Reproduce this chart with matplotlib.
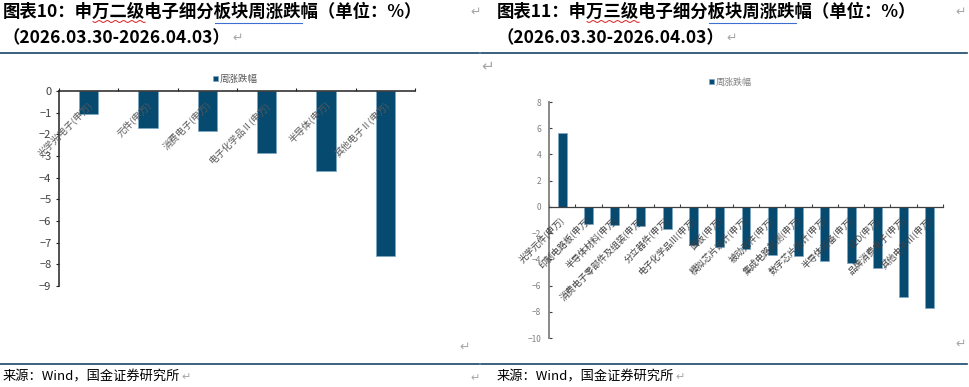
import numpy as np
import matplotlib
matplotlib.use('Agg')
from matplotlib import pyplot as plt
from matplotlib.transforms import offset_copy

plt.rcParams['font.family'] = ['Noto Sans CJK SC', 'DejaVu Sans']

# ---- data (weekly change, %) ----
sw2_names = ['光学光电子(申万)', '元件(申万)', '消费电子(申万)',
             '电子化学品Ⅱ(申万)', '半导体(申万)', '其他电子Ⅱ(申万)']
sw2_chg = [-1.06, -1.72, -1.83, -2.86, -3.70, -7.63]

sw3_names = ['光学元件(申万)', '印制电路板(申万)', '半导体材料(申万)',
             '消费电子零部件及组装(申万)', '分立器件(申万)', '电子化学品Ⅲ(申万)',
             '面板(申万)', '模拟芯片设计(申万)', '被动元件(申万)',
             '集成电路封测(申万)', '数字芯片设计(申万)', '半导体设备(申万)',
             'LED(申万)', '品牌消费电子(申万)', '其他电子Ⅲ(申万)']
sw3_chg = [5.60, -1.32, -1.40, -1.45, -1.70, -2.92, -3.06, -3.24,
           -3.64, -3.77, -4.16, -4.27, -4.68, -6.90, -7.72]

sw2_yticks = list(range(-9, 1))
sw3_yticks = list(range(-10, 9, 2))

title_l = '图表10：申万二级电子细分板块周涨跌幅（单位：%）'
title_r = '图表11：申万三级电子细分板块周涨跌幅（单位：%）'
period = '（2026.03.30-2026.04.03）'
source = '来源：Wind，国金证券研究所'
series_name = '周涨跌幅'

W, H = 969, 387
BAR = '#064A70'
NAVY = '#17456B'
MARK = '#A6A6A6'

fig = plt.figure(figsize=(W / 100, H / 100), dpi=100)
renderer = fig.canvas.get_renderer()


def fx(x):
    return x / W


def fy(y):
    return 1 - y / H


def text_w(s, **kw):
    t = fig.text(0, 0, s, **kw)
    w = t.get_window_extent(renderer).width
    t.remove()
    return w


def hline(x0, x1, y, **kw):
    fig.add_artist(plt.Line2D([fx(x0), fx(x1)], [fy(y), fy(y)], transform=fig.transFigure, **kw))


# ---- document text around the charts ----
tkw = dict(fontsize=12.5, fontweight='bold', color='black')
for x0, title, bad, blue in [(3, title_l, '万二级', '板块周涨跌'), (497, title_r, '万三级', '板块周涨跌')]:
    fig.text(fx(x0), fy(12), title, va='center', ha='left', **tkw)
    fig.text(fx(x0), fy(38), period, va='center', ha='left', **tkw)
    # word-processor squiggles
    i = title.index(bad)
    a = x0 + text_w(title[:i], **tkw)
    b = x0 + text_w(title[:i + len(bad)], **tkw)
    xs = np.linspace(a, b, 40)
    ys = 21.5 + 1.0 * np.sin((xs - a) / 1.3)
    fig.add_artist(plt.Line2D(fx(xs), fy(ys), transform=fig.transFigure, color='#E02020', lw=0.7))
    j = title.index(blue)
    a = x0 + text_w(title[:j], **tkw)
    b = x0 + text_w(title[:j + len(blue)], **tkw)
    hline(a, b, 22.5, color='#3B6FD0', lw=0.8)
    # paragraph mark after the date line
    pw = text_w(period, **tkw)
    fig.text(fx(x0 + pw + 2), fy(38), '↵', va='center', ha='left', fontsize=9, color=MARK)

fig.text(fx(470), fy(12), '↵', va='center', ha='left', fontsize=9, color=MARK)
fig.text(fx(955), fy(12), '↵', va='center', ha='left', fontsize=9, color=MARK)
fig.text(fx(481), fy(66), '↵', va='center', ha='left', fontsize=11, color=MARK)
fig.text(fx(459), fy(347), '↵', va='center', ha='left', fontsize=9, color=MARK)
fig.text(fx(955), fy(344), '↵', va='center', ha='left', fontsize=9, color=MARK)

hline(0, 479, 53, color=NAVY, lw=1.2)
hline(481, 967, 53, color=NAVY, lw=1.2)
hline(0, 479, 364, color=NAVY, lw=1.2)
hline(481, 967, 364, color=NAVY, lw=1.2)

skw = dict(fontsize=9.5, color='black')
for x0 in [3, 497]:
    fig.text(fx(x0), fy(377), source, va='center', ha='left', **skw)
    sw = text_w(source, **skw)
    fig.text(fx(x0 + sw + 1), fy(377), '↵', va='center', ha='left', fontsize=8, color=MARK)
fig.text(fx(470), fy(378), '↵', va='center', ha='left', fontsize=8, color=MARK)

# ---- left chart: SW level-2 ----
ax1 = fig.add_axes([fx(59), fy(286), fx(415) - fx(59), fy(91) - fy(286)])
x2 = np.arange(len(sw2_names))
bars = ax1.bar(x2, sw2_chg, width=0.33, color=BAR, edgecolor='#7FA8C4', linewidth=0.5,
               label=series_name, zorder=2)
ax1.set_xlim(-0.5, len(sw2_names) - 0.5)
ax1.set_ylim(-9, 0)
ax1.set_yticks(sw2_yticks)
for s in ['right', 'bottom']:
    ax1.spines[s].set_visible(False)
for s in ['top', 'left']:
    ax1.spines[s].set_color('#222222')
    ax1.spines[s].set_linewidth(1.1)
ax1.xaxis.set_ticks_position('top')
ax1.set_xticks(np.arange(-0.5, len(sw2_names), 1))
ax1.tick_params(axis='x', direction='out', length=2.5, width=0.8, color='#222222',
                labeltop=False, labelbottom=False)
ax1.tick_params(axis='y', direction='out', length=2.5, width=0.8, color='#222222',
                labelsize=8, labelcolor='#404040', pad=3)
lab_tr = offset_copy(ax1.transData, fig=fig, x=2, y=-12, units='dots')
for i, name in enumerate(sw2_names):
    ax1.text(i, 0, name, transform=lab_tr, rotation=45, rotation_mode='anchor',
             ha='right', va='center', fontsize=6.8, color='#595959', zorder=3)
ax1.legend(handles=[bars], loc='center left', bbox_to_anchor=(fx(213), fy(79)),
           bbox_transform=fig.transFigure, frameon=False, fontsize=6.8,
           labelcolor='#595959', handlelength=0.5, handleheight=0.5,
           handletextpad=0.25, borderpad=0, borderaxespad=0)

# ---- right chart: SW level-3 ----
ax2 = fig.add_axes([fx(549), fy(338), fx(943) - fx(549), fy(102) - fy(338)])
x3 = np.arange(len(sw3_names))
bars3 = ax2.bar(x3, sw3_chg, width=0.34, color=BAR, edgecolor='#7FA8C4', linewidth=0.5,
                label=series_name, zorder=2)
ax2.set_xlim(-0.5, len(sw3_names) - 0.5)
ax2.set_ylim(-10, 8)
ax2.set_yticks(sw3_yticks)
for s in ['right', 'top']:
    ax2.spines[s].set_visible(False)
ax2.spines['left'].set_color('#7F7F7F')
ax2.spines['left'].set_linewidth(1.3)
ax2.spines['bottom'].set_position(('data', 0))
ax2.spines['bottom'].set_color('#404040')
ax2.spines['bottom'].set_linewidth(0.9)
ax2.set_xticks(np.arange(-0.5, len(sw3_names), 1))
ax2.tick_params(axis='x', direction='in', length=2.5, width=0.8, color='#404040',
                labelbottom=False)
ax2.tick_params(axis='y', direction='in', length=2.5, width=0.8, color='#404040',
                labelsize=6, labelcolor='#808080', pad=5.5)
lab_tr3 = offset_copy(ax2.transData, fig=fig, x=1, y=-11, units='dots')
for i, name in enumerate(sw3_names):
    ax2.text(i, 0, name, transform=lab_tr3, rotation=45, rotation_mode='anchor',
             ha='right', va='center', fontsize=6.5, color='#404040', zorder=3)
ax2.legend(handles=[bars3], loc='center left', bbox_to_anchor=(fx(709), fy(82)),
           bbox_transform=fig.transFigure, frameon=False, fontsize=6.5,
           labelcolor='#808080', handlelength=0.5, handleheight=0.5,
           handletextpad=0.25, borderpad=0, borderaxespad=0)

fig.savefig('out.png', dpi=100)
